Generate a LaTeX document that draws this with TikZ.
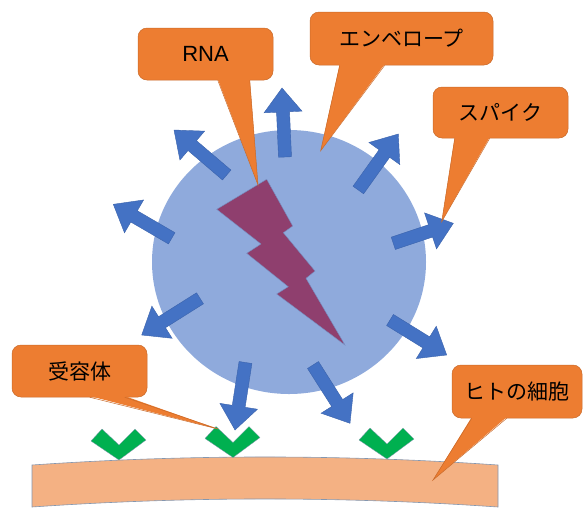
\documentclass[tikz,border=0pt]{standalone}
\usepackage{fontspec}
\setmainfont{Noto Sans CJK JP}
\newfontfamily\latinfont{Liberation Sans}
\usetikzlibrary{calc}

\definecolor{calloutorange}{HTML}{ED7D31}
\definecolor{calloutedge}{HTML}{C96A2A}
\definecolor{envelopeblue}{HTML}{8FAADC}
\definecolor{spikeblue}{HTML}{4472C4}
\definecolor{spikeedge}{HTML}{3B63AC}
\definecolor{rnapurple}{HTML}{8F3F6E}
\definecolor{receptorgreen}{HTML}{00B050}
\definecolor{cellfill}{HTML}{F4B183}
\definecolor{celledge}{HTML}{8497B0}

\tikzset{
  callout/.style={rectangle, rounded corners=9pt, fill=calloutorange,
    draw=calloutedge, line width=0.5pt, text=black, inner sep=0pt,
    font=\fontsize{21}{24}\selectfont},
  tailfill/.style={fill=calloutorange},
  tailline/.style={draw=calloutedge, line width=0.5pt, line join=miter},
  spikearrow/.style={fill=spikeblue, draw=spikeedge, line width=0.4pt, line join=miter},
  bolt/.style={fill=rnapurple, draw=spikeedge!70, line width=0.4pt, line join=miter},
  receptor/.style={fill=receptorgreen, draw=celledge, line width=0.3pt, line join=miter},
  membrane/.style={fill=cellfill, draw=celledge, line width=0.6pt},
}

% block arrow from tail #1 to tip #2
\newcommand\blockarrow[2]{%
  \coordinate (hb) at ($(#2)!24pt!(#1)$);
  \filldraw[spikearrow]
    ($(#1)!6.5pt!90:(#2)$) -- ($(hb)!6.5pt!90:(#2)$) -- ($(hb)!19pt!90:(#2)$)
    -- (#2)
    -- ($(hb)!19pt!-90:(#2)$) -- ($(hb)!6.5pt!-90:(#2)$) -- ($(#1)!6.5pt!-90:(#2)$)
    -- cycle;
}

% pointer of a callout: node #1, base offsets #2 and #3 from its left edge, tip #4
\newcommand\calloutptr[4]{%
  \fill[tailfill] ([xshift=#2pt,yshift=1.2pt]#1.south west) -- (#4)
    -- ([xshift=#3pt,yshift=1.2pt]#1.south west) -- cycle;
  \draw[tailline] ([xshift=#2pt]#1.south west) -- (#4) -- ([xshift=#3pt]#1.south west);
}

% receptor chevron with its lower vertex at #1
\newcommand\chevron[1]{%
  \filldraw[receptor] ($(#1)+(-28,-19)$) -- ($(#1)+(-17,-31)$) -- ($(#1)+(0,-15)$)
    -- ($(#1)+(16,-31)$) -- ($(#1)+(27,-20)$) -- (#1) -- cycle;
}

\begin{document}
\begin{tikzpicture}[x=1pt,y=-1pt]
\useasboundingbox (0,0) rectangle (586,507);

% human cell membrane
\draw[membrane] (32,465) .. controls (187,454.3) and (343,454.3) .. (498,465)
  -- (498,507) .. controls (343,496.3) and (187,496.3) .. (32,507) -- cycle;

% receptors
\coordinate (r1) at (119,460);
\coordinate (r2) at (233,457.5);
\coordinate (r3) at (387,459);
\chevron{r1}
\chevron{r2}
\chevron{r3}

% virus envelope
\fill[envelopeblue] (289,262) ellipse [x radius=137, y radius=132];

% spikes: tail and tip of each
\coordinate (t1) at (285,157);   \coordinate (p1) at (282,88);
\coordinate (t2) at (226.7,175); \coordinate (p2) at (174,130);
\coordinate (t3) at (171.7,238.3); \coordinate (p3) at (113.3,204.3);
\coordinate (t4) at (358.3,190); \coordinate (p4) at (398.3,134);
\coordinate (t5) at (393.3,243.3); \coordinate (p5) at (453.3,223.3);
\coordinate (t6) at (200,298.3); \coordinate (p6) at (141.7,335);
\coordinate (t7) at (245.5,362.5); \coordinate (p7) at (235,430);
\coordinate (t8) at (390,320);   \coordinate (p8) at (446.7,355);
\coordinate (t9) at (313,365);   \coordinate (p9) at (350,423.3);
\foreach \i in {1,...,9} {\blockarrow{t\i}{p\i}}

% RNA
\filldraw[bolt] (266.7,179.3) -- (292.7,226) -- (283.3,232.7) -- (315,271)
  -- (306,278.3) -- (345,345) -- (276.7,294) -- (288.3,286.7) -- (246.7,253.3)
  -- (261,244) -- (216.7,209.3) -- cycle;

% callouts
\node[callout, minimum width=135pt, minimum height=52pt] (rna) at (205.5,54)
  {\latinfont\fontsize{22}{24}\selectfont RNA};
\node[callout, minimum width=183pt, minimum height=53pt] (env) at (401.5,38.5) {エンベロープ};
\node[callout, minimum width=135pt, minimum height=51pt] (spk) at (500.5,112.5) {スパイク};
\node[callout, minimum width=135pt, minimum height=52pt] (rec) at (79.5,371) {受容体};
\node[callout, minimum width=130pt, minimum height=53pt] (cel) at (517,391.5) {ヒトの細胞};

\coordinate (rnatip) at (258,185);
\coordinate (envtip) at (320.7,150.7);
\coordinate (spktip) at (441.7,221.7);
\coordinate (rectip) at (218,429);
\coordinate (celtip) at (433,480);

\calloutptr{rna}{80}{112}{rnatip}
\calloutptr{env}{30}{75}{envtip}
\calloutptr{spk}{22}{57}{spktip}
\calloutptr{rec}{78}{113}{rectip}
\calloutptr{cel}{20}{55}{celtip}
\end{tikzpicture}
\end{document}
